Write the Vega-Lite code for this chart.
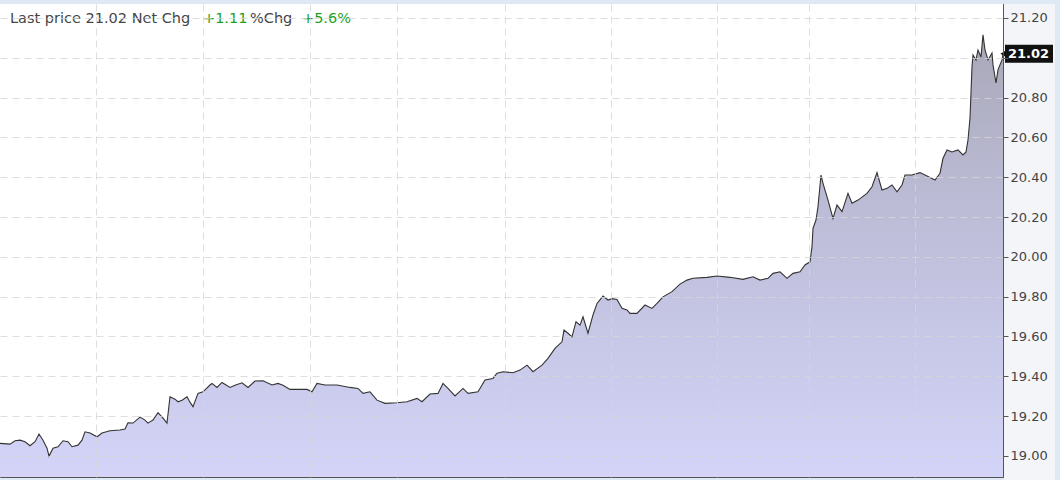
{
  "$schema": "https://vega.github.io/schema/vega-lite/v6.json",
  "width": 1003,
  "height": 473,
  "autosize": "none",
  "padding": {"left": 0, "top": 4, "right": 57, "bottom": 3},
  "background": "#dfe8f5",
  "config": {
    "font": "DejaVu Sans",
    "view": {"fill": "white", "stroke": "#555555", "strokeWidth": 1}
  },
  "datasets": {
    "price": [
      {"t":0,"p":19.063},{"t":10,"p":19.059},{"t":15,"p":19.076},{"t":20,"p":19.079},{"t":25,"p":19.071},{"t":30,"p":19.051},{"t":35,"p":19.071},{"t":39,"p":19.110},{"t":43,"p":19.079},{"t":47,"p":19.039},{"t":49,"p":18.999},{"t":53,"p":19.039},{"t":58,"p":19.046},{"t":63,"p":19.076},{"t":68,"p":19.071},{"t":72,"p":19.046},{"t":78,"p":19.054},{"t":82,"p":19.079},{"t":85,"p":19.121},{"t":90,"p":19.115},{"t":97,"p":19.096},{"t":102,"p":19.115},{"t":110,"p":19.126},{"t":120,"p":19.130},{"t":125,"p":19.135},{"t":128,"p":19.166},{"t":133,"p":19.165},{"t":140,"p":19.195},{"t":145,"p":19.180},{"t":148,"p":19.165},{"t":150,"p":19.171},{"t":153,"p":19.180},{"t":158,"p":19.217},{"t":163,"p":19.190},{"t":167,"p":19.165},{"t":170,"p":19.297},{"t":175,"p":19.285},{"t":178,"p":19.272},{"t":182,"p":19.280},{"t":187,"p":19.297},{"t":190,"p":19.270},{"t":193,"p":19.247},{"t":198,"p":19.314},{"t":203,"p":19.322},{"t":210,"p":19.356},{"t":212,"p":19.364},{"t":217,"p":19.344},{"t":222,"p":19.369},{"t":230,"p":19.344},{"t":235,"p":19.355},{"t":242,"p":19.367},{"t":248,"p":19.344},{"t":255,"p":19.376},{"t":263,"p":19.377},{"t":272,"p":19.356},{"t":278,"p":19.364},{"t":283,"p":19.355},{"t":290,"p":19.334},{"t":298,"p":19.334},{"t":307,"p":19.334},{"t":312,"p":19.322},{"t":317,"p":19.364},{"t":325,"p":19.356},{"t":337,"p":19.356},{"t":350,"p":19.344},{"t":358,"p":19.339},{"t":363,"p":19.314},{"t":370,"p":19.322},{"t":377,"p":19.280},{"t":385,"p":19.264},{"t":397,"p":19.267},{"t":407,"p":19.272},{"t":417,"p":19.289},{"t":422,"p":19.272},{"t":430,"p":19.311},{"t":438,"p":19.314},{"t":443,"p":19.364},{"t":448,"p":19.339},{"t":455,"p":19.301},{"t":463,"p":19.339},{"t":468,"p":19.314},{"t":478,"p":19.322},{"t":485,"p":19.381},{"t":493,"p":19.389},{"t":497,"p":19.415},{"t":503,"p":19.423},{"t":513,"p":19.418},{"t":520,"p":19.431},{"t":527,"p":19.456},{"t":533,"p":19.423},{"t":542,"p":19.456},{"t":548,"p":19.490},{"t":555,"p":19.540},{"t":562,"p":19.573},{"t":564,"p":19.632},{"t":568,"p":19.616},{"t":572,"p":19.598},{"t":576,"p":19.674},{"t":580,"p":19.657},{"t":583,"p":19.699},{"t":588,"p":19.616},{"t":593,"p":19.708},{"t":597,"p":19.766},{"t":603,"p":19.803},{"t":608,"p":19.783},{"t":612,"p":19.790},{"t":617,"p":19.786},{"t":622,"p":19.741},{"t":627,"p":19.733},{"t":630,"p":19.716},{"t":637,"p":19.716},{"t":645,"p":19.758},{"t":652,"p":19.741},{"t":657,"p":19.766},{"t":663,"p":19.799},{"t":672,"p":19.825},{"t":680,"p":19.863},{"t":687,"p":19.883},{"t":693,"p":19.892},{"t":707,"p":19.897},{"t":717,"p":19.904},{"t":730,"p":19.897},{"t":743,"p":19.887},{"t":753,"p":19.900},{"t":760,"p":19.883},{"t":768,"p":19.892},{"t":773,"p":19.917},{"t":780,"p":19.925},{"t":787,"p":19.892},{"t":793,"p":19.917},{"t":800,"p":19.925},{"t":805,"p":19.959},{"t":810,"p":19.975},{"t":812,"p":20.051},{"t":813,"p":20.143},{"t":816,"p":20.185},{"t":818,"p":20.252},{"t":821,"p":20.411},{"t":823,"p":20.369},{"t":828,"p":20.285},{"t":833,"p":20.193},{"t":837,"p":20.260},{"t":842,"p":20.227},{"t":848,"p":20.319},{"t":852,"p":20.269},{"t":858,"p":20.285},{"t":867,"p":20.319},{"t":872,"p":20.352},{"t":877,"p":20.423},{"t":882,"p":20.336},{"t":887,"p":20.344},{"t":892,"p":20.361},{"t":897,"p":20.327},{"t":902,"p":20.361},{"t":905,"p":20.411},{"t":912,"p":20.411},{"t":920,"p":20.423},{"t":928,"p":20.403},{"t":935,"p":20.386},{"t":940,"p":20.420},{"t":943,"p":20.495},{"t":947,"p":20.537},{"t":952,"p":20.527},{"t":958,"p":20.537},{"t":963,"p":20.512},{"t":966,"p":20.527},{"t":968,"p":20.587},{"t":970,"p":20.697},{"t":972,"p":20.954},{"t":973,"p":21.014},{"t":976,"p":20.989},{"t":978,"p":21.039},{"t":981,"p":21.004},{"t":983,"p":21.115},{"t":985,"p":21.039},{"t":988,"p":20.989},{"t":992,"p":21.024},{"t":993,"p":20.964},{"t":996,"p":20.873},{"t":998,"p":20.939},{"t":1002,"p":20.989},{"t":1003,"p":21.02}
    ],
    "header": [
      {"piece": "Last price 21.02 Net Chg"},
      {"piece": "+1.11"},
      {"piece": "%Chg"},
      {"piece": "+5.6%"}
    ],
    "last": [{"last": 21.02, "label": "21.02"}]
  },
  "layer": [
    {
      "data": {"name": "last"},
      "mark": {"type": "rect", "color": "#f3f5f9", "clip": false},
      "encoding": {
        "x": {"datum": 1004, "type": "quantitative"},
        "x2": {"datum": 1055},
        "y": {"datum": 21.27, "type": "quantitative"},
        "y2": {"datum": 18.879}
      }
    },
    {
      "data": {"name": "last"},
      "mark": {
        "type": "rect",
        "opacity": 1,
        "color": {
          "gradient": "linear", "x1": 0, "y1": 0, "x2": 0, "y2": 1,
          "stops": [
            {"offset": 0, "color": "#a5a4b3"},
            {"offset": 0.45, "color": "#bdbdd8"},
            {"offset": 1, "color": "#d3d4f8"}
          ]
        }
      },
      "encoding": {
        "x": {"datum": 0, "type": "quantitative"},
        "x2": {"datum": 1003},
        "y": {"datum": 21.27, "type": "quantitative"},
        "y2": {"datum": 18.894}
      }
    },
    {
      "data": {"name": "price"},
      "mark": {"type": "area", "color": "white", "opacity": 1, "interpolate": "linear"},
      "encoding": {
        "x": {
          "field": "t", "type": "quantitative",
          "scale": {"domain": [0, 1003], "nice": false, "zero": false},
          "axis": {
            "values": [96, 203, 310, 397, 505, 611, 717, 809, 915],
            "labels": false, "ticks": false, "domain": false, "title": null,
            "grid": true, "gridColor": "#d6d6d6", "gridDash": [7, 5], "gridOpacity": 0.8,
            "zindex": 1
          }
        },
        "y": {
          "field": "p", "type": "quantitative",
          "scale": {"domain": [18.894, 21.27], "nice": false, "zero": false},
          "axis": {
            "orient": "right",
            "values": [19.0, 19.2, 19.4, 19.6, 19.8, 20.0, 20.2, 20.4, 20.6, 20.8, 21.0, 21.2],
            "format": ".2f", "title": null,
            "labelExpr": "abs(datum.value - 21) < 0.001 ? '' : datum.label",
            "labelFontSize": 13, "labelColor": "#444444", "labelPadding": 2,
            "tickSize": 5, "tickColor": "#555555",
            "domain": true, "domainColor": "#555555",
            "grid": true, "gridColor": "#d6d6d6", "gridDash": [7, 5], "gridOpacity": 0.8,
            "zindex": 1
          }
        },
        "y2": {"datum": 21.27}
      }
    },
    {
      "data": {"name": "price"},
      "mark": {"type": "line", "color": "#333333", "strokeWidth": 1.1, "interpolate": "linear"},
      "encoding": {
        "x": {"field": "t", "type": "quantitative"},
        "y": {"field": "p", "type": "quantitative"}
      }
    },
    {
      "data": {"name": "header"},
      "transform": [{"filter": "datum.piece === 'Last price 21.02 Net Chg'"}],
      "mark": {"type": "text", "align": "left", "baseline": "middle", "fontSize": 14.5, "color": "#444444"},
      "encoding": {
        "x": {"datum": 10, "type": "quantitative"},
        "y": {"datum": 21.195, "type": "quantitative"},
        "text": {"field": "piece"}
      }
    },
    {
      "data": {"name": "header"},
      "transform": [{"filter": "datum.piece === '+1.11'"}],
      "mark": {"type": "text", "align": "left", "baseline": "middle", "fontSize": 14.5, "color": "#1f9f1f"},
      "encoding": {
        "x": {"datum": 203, "type": "quantitative"},
        "y": {"datum": 21.195, "type": "quantitative"},
        "text": {"field": "piece"}
      }
    },
    {
      "data": {"name": "header"},
      "transform": [{"filter": "datum.piece === '%Chg'"}],
      "mark": {"type": "text", "align": "left", "baseline": "middle", "fontSize": 14.5, "color": "#444444"},
      "encoding": {
        "x": {"datum": 250, "type": "quantitative"},
        "y": {"datum": 21.195, "type": "quantitative"},
        "text": {"field": "piece"}
      }
    },
    {
      "data": {"name": "header"},
      "transform": [{"filter": "datum.piece === '+5.6%'"}],
      "mark": {"type": "text", "align": "left", "baseline": "middle", "fontSize": 14.5, "color": "#1f9f1f"},
      "encoding": {
        "x": {"datum": 302, "type": "quantitative"},
        "y": {"datum": 21.195, "type": "quantitative"},
        "text": {"field": "piece"}
      }
    },
    {
      "data": {"name": "last"},
      "mark": {"type": "rule", "color": "#111111", "strokeWidth": 18, "clip": false},
      "encoding": {
        "x": {"datum": 1005, "type": "quantitative"},
        "x2": {"datum": 1053},
        "y": {"field": "last", "type": "quantitative"}
      }
    },
    {
      "data": {"name": "last"},
      "mark": {"type": "point", "shape": "triangle-left", "filled": true, "color": "#111111", "size": 70, "opacity": 1, "clip": false},
      "encoding": {
        "x": {"datum": 1004, "type": "quantitative"},
        "y": {"field": "last", "type": "quantitative"}
      }
    },
    {
      "data": {"name": "last"},
      "mark": {"type": "text", "align": "left", "baseline": "middle", "fontSize": 13, "fontWeight": "bold", "color": "white", "clip": false},
      "encoding": {
        "x": {"datum": 1008, "type": "quantitative"},
        "y": {"field": "last", "type": "quantitative"},
        "text": {"field": "label"}
      }
    }
  ]
}
